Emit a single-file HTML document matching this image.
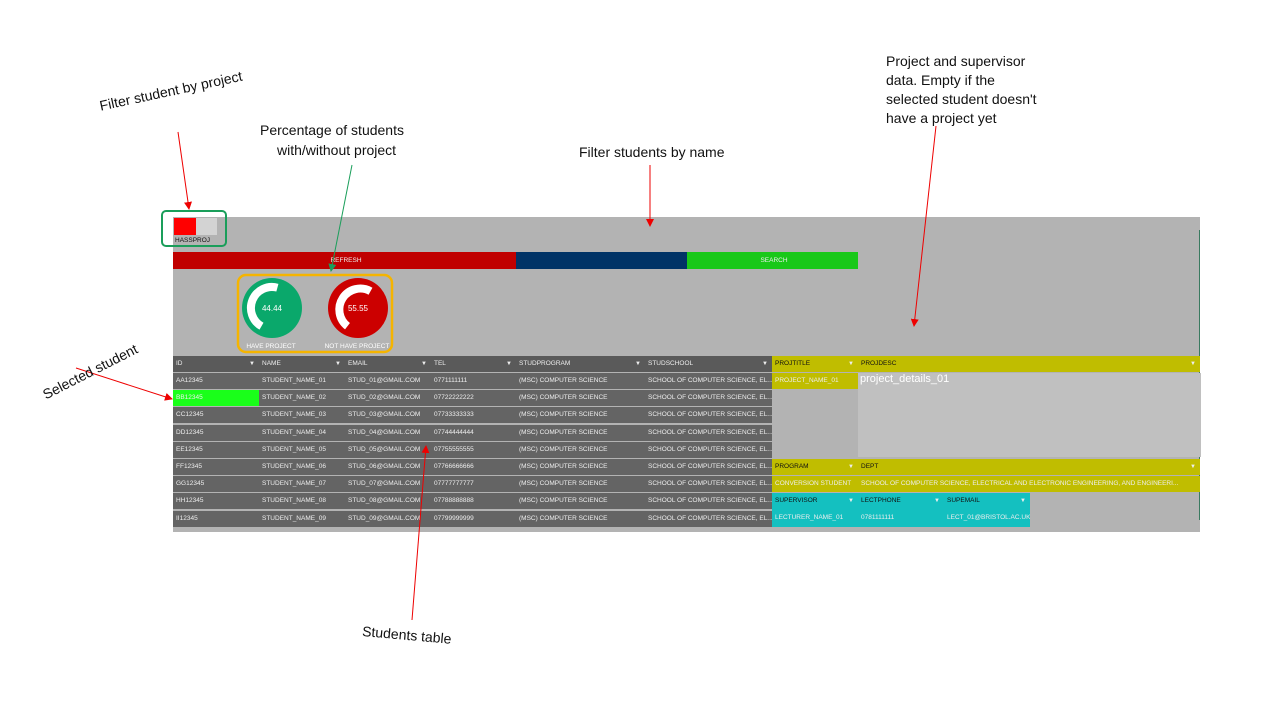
<!DOCTYPE html>
<html><head><meta charset="utf-8"><style>
body{margin:0;width:1280px;height:720px;background:#fff;position:relative;overflow:hidden;font-family:"Liberation Sans",sans-serif}
.a{position:absolute}
.c{position:absolute;font-family:"Liberation Sans",sans-serif;font-size:6.5px;line-height:17px;padding-left:3px;box-sizing:border-box;white-space:nowrap;overflow:hidden;color:#eee}
.h{color:#111}
.n{font-family:"Liberation Sans",sans-serif;font-size:14px;color:#111;position:absolute;white-space:nowrap}
.arr{position:absolute;right:4px;top:0;font-size:6px;color:#eee}
</style></head><body>
<div class="a" style="left:173px;top:217px;width:1027px;height:315px;background:#b3b3b3"></div>
<div class="a" style="left:1199px;top:230px;width:1px;height:290px;background:#3a7a60"></div>
<!-- toggle -->
<div class="a" style="left:174px;top:218px;width:22px;height:17px;background:#f00"></div>
<div class="a" style="left:196px;top:218px;width:21px;height:17px;background:#d3d3d3"></div>
<div class="c h" style="left:172px;top:235px;line-height:12px">HASSPROJ</div>
<div class="a" style="left:161px;top:210px;width:62px;height:33px;border:2.5px solid #1a9e5a;border-radius:5px"></div>
<!-- buttons -->
<div class="a" style="left:173px;top:252px;width:343px;height:17px;background:#c00000"></div>
<div class="a" style="left:516px;top:252px;width:171px;height:17px;background:#003366"></div>
<div class="a" style="left:687px;top:252px;width:171px;height:17px;background:#19c819"></div>
<div class="c" style="left:173px;top:252px;width:343px;text-align:center">REFRESH</div>
<div class="c" style="left:687px;top:252px;width:171px;text-align:center">SEARCH</div>
<!-- gauges -->
<svg class="a" style="left:0;top:0" width="1280" height="720">
<circle cx="272" cy="308" r="30" fill="#0aa86b"/>
<path d="M 261.5 326.2 A 21 21 0 0 1 277.4 287.7" fill="none" stroke="#fff" stroke-width="8"/>
<circle cx="358" cy="308" r="30" fill="#cc0000"/>
<path d="M 347.5 326.2 A 21 21 0 0 1 370.5 291.2" fill="none" stroke="#fff" stroke-width="8"/>
<text x="272" y="311" font-size="8" fill="#fff" text-anchor="middle" font-family="Liberation Sans">44.44</text>
<text x="358" y="311" font-size="8" fill="#fff" text-anchor="middle" font-family="Liberation Sans">55.55</text>
<text x="271" y="348" font-size="6.5" fill="#fff" text-anchor="middle" font-family="Liberation Sans">HAVE PROJECT</text>
<text x="357" y="348" font-size="6.5" fill="#fff" text-anchor="middle" font-family="Liberation Sans">NOT HAVE PROJECT</text>
<rect x="238" y="275" width="154" height="77" rx="8" fill="none" stroke="#f5b400" stroke-width="2.5"/>
</svg>
<div id="tbl"></div>
<script>
var cols=[[173,86,"ID"],[259,86,"NAME"],[345,86,"EMAIL"],[431,85,"TEL"],[516,129,"STUDPROGRAM"],[645,127,"STUDSCHOOL"]];
var rows=[];var L="ABCDEFGHI";
for(var i=1;i<=9;i++){var l=L[i-1]+L[i-1];rows.push([l+"12345","STUDENT_NAME_0"+i,"STUD_0"+i+"@GMAIL.COM",i==1?"0771111111":"077"+i+i+i+i+i+i+i+i,"(MSC) COMPUTER SCIENCE","SCHOOL OF COMPUTER SCIENCE, EL..."]);}
var h="";
h+='<div class="a" style="left:173px;top:356px;width:599px;height:16px;background:#5a5a5a"></div>';
cols.forEach(function(c){h+='<div class="c" style="left:'+c[0]+'px;top:356px;width:'+c[1]+'px;line-height:16px">'+c[2]+'<span class="arr">▼</span></div>';});
rows.forEach(function(r,i){var y=373+i*17.2;
h+='<div class="a" style="left:173px;top:'+y+'px;width:599px;height:16px;background:#646464"></div>';
r.forEach(function(t,j){var bg=(i==1&&j==0)?"background:#1aff1a;":"";h+='<div class="c" style="left:'+cols[j][0]+'px;top:'+y+'px;width:'+cols[j][1]+'px;height:16px;line-height:16px;'+bg+'">'+t+'</div>';});});
var Y="#c0bd00",T="#14c0c0";
function cell(x,y,w,hh,bg,t,cls,arr){h+='<div class="c '+(cls||"")+'" style="left:'+x+'px;top:'+y+'px;width:'+w+'px;height:'+hh+'px;line-height:16px;background:'+bg+'">'+t+(arr?'<span class="arr">▼</span>':'')+'</div>';}
cell(772,356,86,16,Y,"PROJTITLE","h",1);cell(858,356,342,16,Y,"PROJDESC","h",1);
cell(772,373,86,16,Y,"PROJECT_NAME_01");
h+='<div class="a" style="left:858px;top:373px;width:341px;height:84px;background:#c0c0c0;color:#fff;font-size:11px;padding-left:2px">project_details_01</div>';
cell(772,459,86,16,Y,"PROGRAM","h",1);cell(858,459,342,16,Y,"DEPT","h",1);
cell(772,476,86,16,Y,"CONVERSION STUDENT");cell(858,476,342,16,Y,"SCHOOL OF COMPUTER SCIENCE, ELECTRICAL AND ELECTRONIC ENGINEERING, AND ENGINEERI...");
cell(772,493,86,17,T,"SUPERVISOR","h",1);cell(858,493,86,17,T,"LECTPHONE","h",1);cell(944,493,86,17,T,"SUPEMAIL","h",1);
cell(772,510,86,17,T,"LECTURER_NAME_01");cell(858,510,86,17,T,"0781111111");cell(944,510,86,17,T,"LECT_01@BRISTOL.AC.UK");
document.getElementById("tbl").innerHTML=h;
</script>
<!-- annotations -->
<svg class="a" style="left:0;top:0" width="1280" height="720">
<defs>
<marker id="r" markerWidth="8" markerHeight="8" refX="7" refY="4" orient="auto" markerUnits="userSpaceOnUse"><path d="M0,0 L8,4 L0,8 Z" fill="#e00"/></marker>
<marker id="g" markerWidth="8" markerHeight="8" refX="7" refY="4" orient="auto" markerUnits="userSpaceOnUse"><path d="M0,0 L8,4 L0,8 Z" fill="#1a9e5a"/></marker>
</defs>
<g stroke="#e00" stroke-width="1" fill="none">
<line x1="178" y1="132" x2="189" y2="209" marker-end="url(#r)"/>
<line x1="650" y1="165" x2="650" y2="226" marker-end="url(#r)"/>
<line x1="936" y1="126" x2="914" y2="326" marker-end="url(#r)"/>
<line x1="76" y1="368" x2="172" y2="399" marker-end="url(#r)"/>
<line x1="412" y1="620" x2="426" y2="446" marker-end="url(#r)"/>
</g>
<line x1="352" y1="165" x2="331" y2="271" stroke="#1a9e5a" stroke-width="1" marker-end="url(#g)"/>
</svg>
<div class="n" style="left:98px;top:98px;transform:rotate(-12deg);transform-origin:left top">Filter student by project</div>
<div class="n" style="left:260px;top:122px">Percentage of students</div>
<div class="n" style="left:277px;top:142px">with/without project</div>
<div class="n" style="left:579px;top:144px">Filter students by name</div>
<div class="n" style="left:886px;top:52px;line-height:19px">Project and supervisor<br>data. Empty if the<br>selected student doesn't<br>have a project yet</div>
<div class="n" style="left:40px;top:388px;transform:rotate(-27deg);transform-origin:left top">Selected student</div>
<div class="n" style="left:363px;top:623px;transform:rotate(5deg);transform-origin:left top">Students table</div>
</body></html>
